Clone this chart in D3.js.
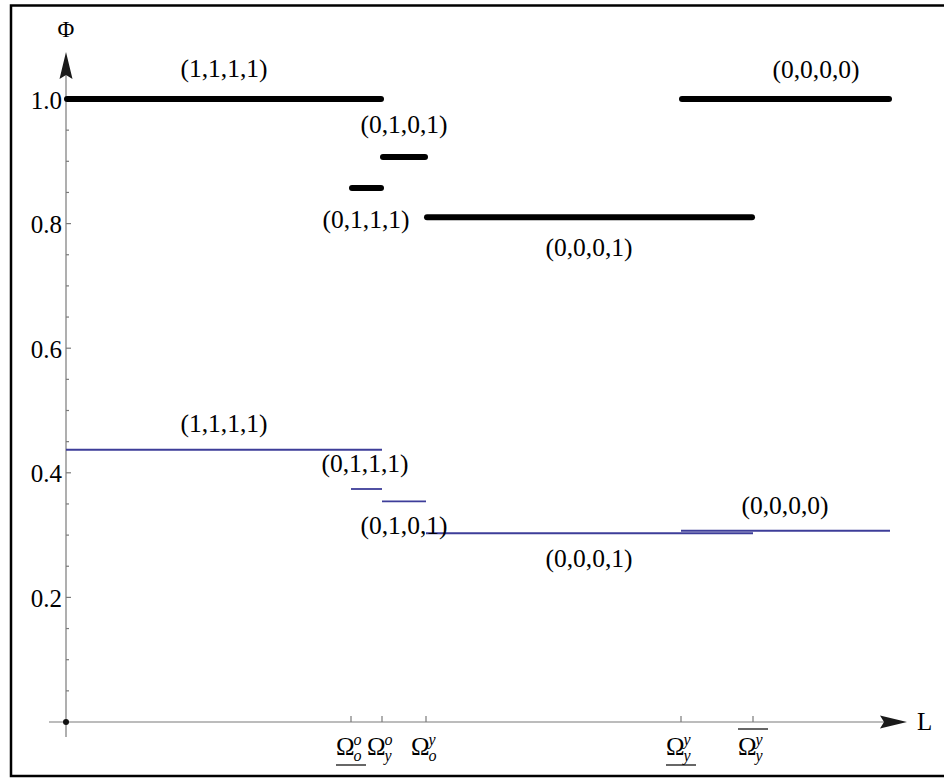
<!DOCTYPE html>
<html>
<head>
<meta charset="utf-8">
<script src="https://cdn.jsdelivr.net/npm/d3@7"></script>
<style>
  body { margin: 0; background: #fff; }
  svg { display: block; font-family: "Liberation Serif", "Times New Roman", serif; }
</style>
</head>
<body>
<div id="container"></div>
<script>
// break points on the L axis (threshold values)
const tickL = [2.85, 3.16, 3.60, 6.15, 6.87];
const tickSup = ["o", "o", "y", "y", "y"];
const tickSub = ["o", "y", "o", "y", "y"];
const tickMark = ["under", "", "", "under", "over"];
const Lmax = 8.24;

// regimes, each one a flat step of Phi
const states = ["(1,1,1,1)", "(0,1,1,1)", "(0,1,0,1)", "(0,0,0,1)", "(0,0,0,0)"];
const segStart = [0, 2.85, 3.16, 3.60, 6.15];
const segEnd = [3.16, 3.16, 3.60, 6.87, 8.24];
const blackPhi = [1.0, 0.857, 0.907, 0.810, 1.0];
const bluePhi = [0.437, 0.374, 0.354, 0.303, 0.307];

const yTicks = [0.2, 0.4, 0.6, 0.8, 1.0];

const width = 944;
const height = 778;
const blue = "#3d3d99";
const axisColor = "#7a7a7a";

// where the state labels go: centre on L axis, pixel shift from the step
const blackLabel = [{ L: 1.58, dy: -22 }, { L: 3.00, dy: 40 }, { L: 3.38, dy: -24 }, { L: 5.23, dy: 39 }, { L: 7.50, dy: -21 }];
const blueLabel = [{ L: 1.58, dy: -18 }, { L: 2.99, dy: -17 }, { L: 3.38, dy: 33 }, { L: 5.23, dy: 34 }, { L: 7.19, dy: -17 }];

const x = d3.scaleLinear().domain([0, 1]).range([66, 166]);
const y = d3.scaleLinear().domain([0, 1]).range([722, 99]);

const svg = d3.select("#container")
  .append("svg")
  .attr("width", width)
  .attr("height", height);

svg.append("rect")
  .attr("width", width)
  .attr("height", height)
  .attr("fill", "#fff");

// frame (right side runs off the picture)
svg.append("rect")
  .attr("x", 11)
  .attr("y", 5.5)
  .attr("width", 960)
  .attr("height", 770.5)
  .attr("fill", "none")
  .attr("stroke", "#000")
  .attr("stroke-width", 2.5);

// y axis
const yAxis = svg.append("g").attr("stroke", axisColor).attr("stroke-width", 1.2);
yAxis.append("line")
  .attr("x1", x(0)).attr("x2", x(0))
  .attr("y1", y(0) + 15).attr("y2", 60);

const minor = d3.range(1, 20).map(i => i * 0.05).filter(v => !yTicks.some(t => Math.abs(t - v) < 1e-6));
yAxis.selectAll(".minor")
  .data(minor)
  .enter()
  .append("line")
  .attr("x1", x(0)).attr("x2", x(0) + 3)
  .attr("y1", d => y(d)).attr("y2", d => y(d));
yAxis.selectAll(".major")
  .data(yTicks)
  .enter()
  .append("line")
  .attr("x1", x(0)).attr("x2", x(0) + 5)
  .attr("y1", d => y(d)).attr("y2", d => y(d));

svg.selectAll(".ylab")
  .data(yTicks)
  .enter()
  .append("text")
  .attr("x", 62)
  .attr("y", d => y(d))
  .attr("dy", "0.38em")
  .attr("text-anchor", "end")
  .attr("font-size", 25)
  .text(d => d3.format(".1f")(d));

// x axis
const xAxis = svg.append("g").attr("stroke", axisColor).attr("stroke-width", 1.2);
xAxis.append("line")
  .attr("x1", 49).attr("x2", 890)
  .attr("y1", y(0)).attr("y2", y(0));
xAxis.selectAll(".xt")
  .data(tickL)
  .enter()
  .append("line")
  .attr("x1", d => x(d)).attr("x2", d => x(d))
  .attr("y1", y(0)).attr("y2", y(0) - 6);

// arrow heads
svg.append("path")
  .attr("d", `M${x(0)},52 L${x(0) + 6.5},79 L${x(0)},75 L${x(0) - 6.5},79 Z`)
  .attr("fill", "#1a1a1a");
svg.append("path")
  .attr("d", `M907,${y(0)} L880,${y(0) - 6.5} L884,${y(0)} L880,${y(0) + 6.5} Z`)
  .attr("fill", "#1a1a1a");

svg.append("circle")
  .attr("cx", x(0)).attr("cy", y(0)).attr("r", 3)
  .attr("fill", "#111");

svg.append("text")
  .attr("x", x(0)).attr("y", 37)
  .attr("text-anchor", "middle")
  .attr("font-size", 23)
  .text("Φ");
svg.append("text")
  .attr("x", 917).attr("y", 730)
  .attr("font-size", 25)
  .text("L");

// x tick labels: Omega with sub/superscripts
const tl = svg.selectAll(".tl")
  .data(tickL)
  .enter()
  .append("g")
  .attr("transform", d => `translate(${x(d)},0)`);

tl.append("text")
  .attr("x", -15).attr("y", 755)
  .attr("font-size", 25)
  .text("Ω");
tl.append("text")
  .attr("x", 2.5).attr("y", 745)
  .attr("font-size", 16)
  .attr("font-style", "italic")
  .text((d, i) => tickSup[i]);
tl.append("text")
  .attr("x", 2.5).attr("y", 761)
  .attr("font-size", 16)
  .attr("font-style", "italic")
  .text((d, i) => tickSub[i]);
tl.filter((d, i) => tickMark[i] !== "")
  .append("line")
  .attr("x1", -15).attr("x2", 15)
  .each(function (d) {
    const i = tickL.indexOf(d);
    const yy = tickMark[i] === "under" ? 765 : 729;
    d3.select(this).attr("y1", yy).attr("y2", yy);
  })
  .attr("stroke", "#000")
  .attr("stroke-width", 1.2);

// steps
const idx = d3.range(states.length);

svg.selectAll(".blue")
  .data(idx)
  .enter()
  .append("line")
  .attr("x1", i => x(segStart[i])).attr("x2", i => x(segEnd[i]))
  .attr("y1", i => y(bluePhi[i])).attr("y2", i => y(bluePhi[i]))
  .attr("stroke", blue)
  .attr("stroke-width", 1.8);

svg.selectAll(".black")
  .data(idx)
  .enter()
  .append("line")
  .attr("x1", i => x(segStart[i]) + 1).attr("x2", i => x(segEnd[i]) - 1)
  .attr("y1", i => y(blackPhi[i])).attr("y2", i => y(blackPhi[i]))
  .attr("stroke", "#000")
  .attr("stroke-width", 6)
  .attr("stroke-linecap", "round");

svg.selectAll(".bl")
  .data(idx)
  .enter()
  .append("text")
  .attr("x", i => x(blackLabel[i].L))
  .attr("y", i => y(blackPhi[i]) + blackLabel[i].dy)
  .attr("text-anchor", "middle")
  .attr("font-size", 25.5)
  .text(i => states[i]);

svg.selectAll(".ul")
  .data(idx)
  .enter()
  .append("text")
  .attr("x", i => x(blueLabel[i].L))
  .attr("y", i => y(bluePhi[i]) + blueLabel[i].dy)
  .attr("text-anchor", "middle")
  .attr("font-size", 25.5)
  .text(i => states[i]);
</script>
</body>
</html>
